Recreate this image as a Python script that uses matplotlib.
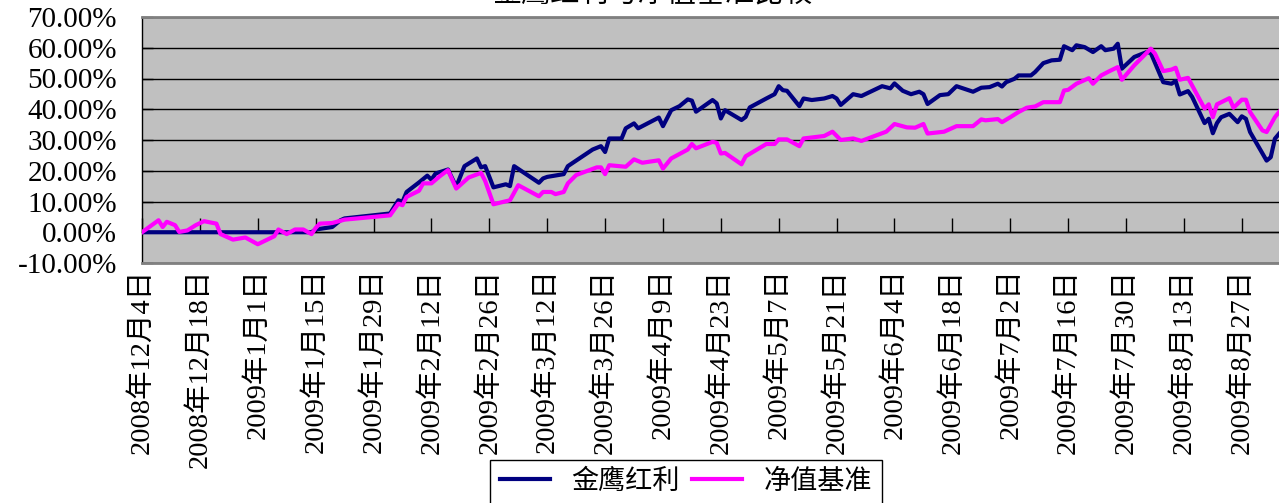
import pandas as pd
import matplotlib
matplotlib.use('Agg')
import matplotlib.pyplot as plt
import matplotlib.dates as mdates
from matplotlib.ticker import FuncFormatter

plt.rcParams['font.family'] = ['Liberation Serif', 'Noto Sans CJK SC']

# 金鹰红利 (fund) cumulative return, %
fund_dates = [
    '2008-12-04', '2009-01-14', '2009-01-15', '2009-01-19', '2009-01-21', '2009-01-22',
    '2009-02-02', '2009-02-04', '2009-02-05', '2009-02-06', '2009-02-09', '2009-02-11',
    '2009-02-12', '2009-02-13', '2009-02-16', '2009-02-18', '2009-02-20', '2009-02-23',
    '2009-02-24', '2009-02-25', '2009-02-27', '2009-03-02', '2009-03-03', '2009-03-04',
    '2009-03-10', '2009-03-11', '2009-03-12', '2009-03-16', '2009-03-17', '2009-03-23',
    '2009-03-25', '2009-03-26', '2009-03-27', '2009-03-30', '2009-03-31', '2009-04-02',
    '2009-04-03', '2009-04-08', '2009-04-09', '2009-04-11', '2009-04-13', '2009-04-15',
    '2009-04-16', '2009-04-17', '2009-04-21', '2009-04-22', '2009-04-23', '2009-04-24',
    '2009-04-28', '2009-04-29', '2009-04-30', '2009-05-04', '2009-05-06', '2009-05-07',
    '2009-05-08', '2009-05-09', '2009-05-12', '2009-05-13', '2009-05-15', '2009-05-18',
    '2009-05-20', '2009-05-21', '2009-05-22', '2009-05-25', '2009-05-27', '2009-06-01',
    '2009-06-03', '2009-06-04', '2009-06-06', '2009-06-08', '2009-06-10', '2009-06-11',
    '2009-06-12', '2009-06-15', '2009-06-17', '2009-06-19', '2009-06-23', '2009-06-25',
    '2009-06-27', '2009-06-29', '2009-06-30', '2009-07-01', '2009-07-03', '2009-07-04',
    '2009-07-07', '2009-07-08', '2009-07-10', '2009-07-12', '2009-07-14', '2009-07-15',
    '2009-07-17', '2009-07-18', '2009-07-20', '2009-07-22', '2009-07-24', '2009-07-25',
    '2009-07-27', '2009-07-28', '2009-07-29', '2009-08-01', '2009-08-04', '2009-08-05',
    '2009-08-08', '2009-08-10', '2009-08-11', '2009-08-12', '2009-08-14', '2009-08-15',
    '2009-08-18', '2009-08-19', '2009-08-20', '2009-08-21', '2009-08-22', '2009-08-24',
    '2009-08-26', '2009-08-27', '2009-08-28', '2009-08-29', '2009-09-02', '2009-09-03',
    '2009-09-04', '2009-09-05',
]
fund_values = [
    0.0, 0.0, 0.9, 1.7, 3.9, 4.5,
    6.1, 10.4, 9.9, 13.1, 16.2, 18.4,
    17.1, 19.1, 20.4, 14.8, 21.5, 24.0,
    21.1, 21.5, 14.6, 15.6, 15.0, 21.5,
    16.1, 17.5, 18.0, 18.9, 21.5, 26.9,
    28.0, 26.1, 30.5, 30.5, 33.8, 35.4,
    33.8, 37.3, 34.5, 39.7, 41.0, 43.2,
    42.8, 39.2, 43.0, 41.9, 37.0, 39.7,
    36.5, 37.5, 40.6, 43.5, 44.9, 47.5,
    46.2, 46.0, 41.0, 43.5, 43.0, 43.5,
    44.3, 43.5, 41.4, 44.9, 44.3, 47.5,
    46.8, 48.4, 46.0, 44.9, 45.7, 44.9,
    41.7, 44.6, 44.9, 47.5, 45.7, 47.0,
    47.2, 48.3, 47.4, 48.8, 49.9, 51.0,
    51.0, 52.1, 55.0, 55.9, 56.1, 60.5,
    59.2, 60.8, 60.2, 58.6, 60.5, 59.2,
    59.7, 61.3, 53.2, 57.0, 58.6, 58.3,
    48.8, 48.3, 49.2, 44.8, 45.9, 44.0,
    35.5, 36.9, 32.2, 35.5, 37.4, 38.5,
    35.8, 37.7, 36.9, 32.6, 23.3, 24.4,
    30.4, 32.0,
]

# 净值基准 (benchmark) cumulative return, %
bench_dates = [
    '2008-12-04', '2008-12-08', '2008-12-09', '2008-12-10', '2008-12-12', '2008-12-13',
    '2008-12-15', '2008-12-17', '2008-12-19', '2008-12-22', '2008-12-23', '2008-12-26',
    '2008-12-29', '2009-01-01', '2009-01-05', '2009-01-06', '2009-01-08', '2009-01-10',
    '2009-01-12', '2009-01-14', '2009-01-15', '2009-01-16', '2009-01-19', '2009-01-22',
    '2009-02-02', '2009-02-04', '2009-02-05', '2009-02-06', '2009-02-09', '2009-02-10',
    '2009-02-12', '2009-02-14', '2009-02-16', '2009-02-18', '2009-02-21', '2009-02-24',
    '2009-02-25', '2009-02-27', '2009-03-03', '2009-03-05', '2009-03-10', '2009-03-11',
    '2009-03-13', '2009-03-14', '2009-03-16', '2009-03-17', '2009-03-19', '2009-03-24',
    '2009-03-25', '2009-03-26', '2009-03-27', '2009-03-31', '2009-04-02', '2009-04-04',
    '2009-04-08', '2009-04-09', '2009-04-11', '2009-04-15', '2009-04-16', '2009-04-17',
    '2009-04-21', '2009-04-22', '2009-04-23', '2009-04-24', '2009-04-28', '2009-04-29',
    '2009-05-04', '2009-05-06', '2009-05-07', '2009-05-09', '2009-05-12', '2009-05-13',
    '2009-05-18', '2009-05-20', '2009-05-22', '2009-05-25', '2009-05-27', '2009-06-02',
    '2009-06-04', '2009-06-07', '2009-06-09', '2009-06-11', '2009-06-12', '2009-06-16',
    '2009-06-19', '2009-06-23', '2009-06-25', '2009-06-26', '2009-06-29', '2009-06-30',
    '2009-07-02', '2009-07-04', '2009-07-06', '2009-07-08', '2009-07-10', '2009-07-14',
    '2009-07-15', '2009-07-16', '2009-07-18', '2009-07-21', '2009-07-22', '2009-07-24',
    '2009-07-26', '2009-07-28', '2009-07-29', '2009-08-01', '2009-08-05', '2009-08-06',
    '2009-08-08', '2009-08-10', '2009-08-11', '2009-08-12', '2009-08-14', '2009-08-18',
    '2009-08-19', '2009-08-20', '2009-08-21', '2009-08-24', '2009-08-25', '2009-08-27',
    '2009-08-28', '2009-08-29', '2009-09-01', '2009-09-02', '2009-09-04', '2009-09-05',
]
bench_values = [
    0.0, 3.9, 1.7, 3.4, 2.3, 0.1,
    0.6, 2.3, 3.6, 2.8, -0.6, -2.4,
    -1.7, -3.9, -1.3, 0.9, -0.6, 0.9,
    0.9, -0.6, 1.4, 2.8, 3.0, 4.1,
    5.5, 9.3, 8.8, 11.5, 13.5, 15.9,
    15.9, 18.2, 20.2, 14.2, 17.8, 19.3,
    16.7, 9.1, 10.4, 15.3, 11.7, 13.1,
    13.1, 12.4, 13.1, 15.9, 18.6, 21.1,
    21.1, 18.9, 21.8, 21.3, 23.7, 22.6,
    23.4, 20.7, 24.0, 26.9, 28.7, 27.3,
    29.4, 29.1, 25.6, 25.8, 22.1, 24.7,
    28.7, 28.7, 30.2, 30.2, 28.0, 30.5,
    31.3, 32.7, 30.0, 30.5, 29.7, 32.7,
    35.2, 34.1, 34.0, 35.2, 32.1, 32.7,
    34.5, 34.5, 36.7, 36.4, 36.8, 35.8,
    37.4, 39.1, 40.5, 40.9, 42.3, 42.3,
    46.1, 46.3, 48.3, 50.1, 48.3, 51.0,
    52.4, 53.7, 49.6, 54.3, 59.7, 58.1,
    52.4, 52.9, 53.5, 49.6, 50.2, 40.2,
    41.6, 37.4, 41.6, 43.6, 40.5, 43.1,
    43.1, 39.1, 33.1, 32.6, 37.4, 39.1,
]

series_names = ['金鹰红利', '净值基准']
title_text = '金鹰红利与净值基准比较'

tick_dates = pd.date_range('2008-12-04', '2009-08-27', freq='14D')
tick_labels = [f'{d.year}年{d.month}月{d.day}日' for d in tick_dates]

W, H = 1279, 503
fig = plt.figure(figsize=(W / 100, H / 100), dpi=100)
ax = fig.add_axes([142 / W, 1 - 263 / H, 1 - 142 / W, (263 - 17) / H])
ax.set_facecolor('#C0C0C0')

ax.plot(pd.to_datetime(fund_dates), fund_values, color='#000080', lw=3,
        label=series_names[0], zorder=3)
ax.plot(pd.to_datetime(bench_dates), bench_values, color='#FF00FF', lw=3,
        label=series_names[1], zorder=4)

ax.set_ylim(-10, 70)
ax.set_yticks(range(-10, 71, 10))
ax.yaxis.set_major_formatter(FuncFormatter(lambda v, p: f'{v:.2f}%'))
ax.grid(axis='y', color='black', lw=1)
ax.set_axisbelow(True)
ax.tick_params(axis='y', direction='in', length=8, width=1, labelsize=21, pad=18)

ax.set_xlim(pd.Timestamp('2008-12-04'), pd.Timestamp('2009-09-05'))
ax.set_xticks(tick_dates)
ax.set_xticklabels(tick_labels, rotation=90, fontsize=20.5)
ax.tick_params(axis='x', length=0, pad=4)

# category axis crossing at 0%
sec = ax.secondary_xaxis(10 / 80)
sec.set_xticks(mdates.date2num(tick_dates))
sec.tick_params(direction='in', length=10, width=1, color='black', labelbottom=False)
sec.spines['bottom'].set_color('black')
sec.spines['bottom'].set_linewidth(1)

ax.spines['left'].set_color('black')
ax.spines['left'].set_linewidth(1)
for s in ['top', 'bottom']:
    ax.spines[s].set_color('#808080')
    ax.spines[s].set_linewidth(2)
ax.spines['right'].set_visible(False)

leg = ax.legend(loc='upper center', bbox_to_anchor=(686 / W, 1 - 460 / H),
                bbox_transform=fig.transFigure, ncol=2, frameon=True, fancybox=False,
                edgecolor='black', framealpha=1, fontsize=19.5, handlelength=1.85,
                columnspacing=0.45, borderaxespad=0, borderpad=0.35)
leg.get_frame().set_linewidth(1)

fig.text(652 / W, 1 - 1 / H, title_text, ha='center', va='baseline', fontsize=21)

fig.savefig('out.png', dpi=100)
